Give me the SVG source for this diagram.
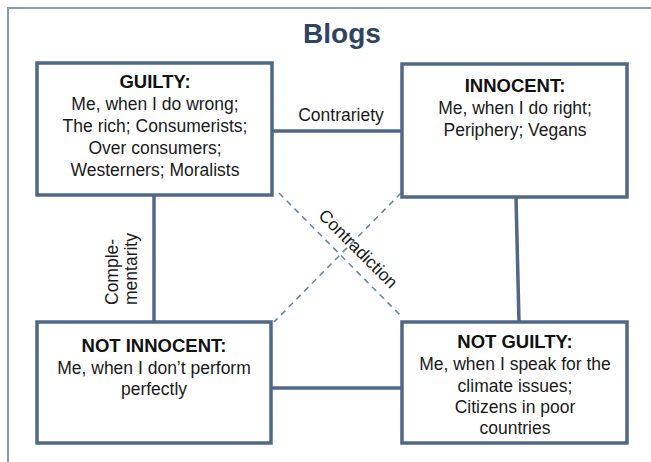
<svg xmlns="http://www.w3.org/2000/svg" width="651" height="462" viewBox="0 0 651 462">
  <style>
    .frame { fill: none; stroke: #8899b1; stroke-width: 2; }
    .title { font-family: "Liberation Sans", Arial, sans-serif; font-size: 28px; font-weight: bold; fill: #2e4460; text-anchor: middle; }
    .box { fill: #ffffff; stroke: #4f6888; stroke-width: 3.5; }
    .head { font-family: "Liberation Sans", Arial, sans-serif; font-size: 18.5px; font-weight: bold; fill: #111111; text-anchor: middle; }
    .body { font-family: "Liberation Sans", Arial, sans-serif; font-size: 17.5px; fill: #1a1a1a; text-anchor: middle; }
    .link { fill: none; stroke: #4f6888; stroke-width: 3.5; }
    .dash { fill: none; stroke: #6e86a4; stroke-width: 1.6; stroke-dasharray: 6 5; }
    .label { font-family: "Liberation Sans", Arial, sans-serif; font-size: 17.5px; fill: #1a1a1a; }
  </style>

  <rect width="651" height="462" fill="#ffffff"/>
  <!-- outer frame: top and left edges -->
  <path class="frame" d="M8 462 V8 H651"/>

  <text class="title" x="342" y="43">Blogs</text>

  <!-- connectors between the four squares -->
  <g id="connectors">
    <line class="link" x1="272" y1="131" x2="402" y2="131"/>
    <line class="link" x1="154" y1="195" x2="154" y2="322"/>
    <line class="link" x1="516" y1="197" x2="519" y2="322"/>
    <line class="link" x1="271" y1="388" x2="402" y2="388"/>
    <line class="dash" x1="279" y1="193" x2="401" y2="316"/>
    <line class="dash" x1="401" y1="193" x2="274" y2="322"/>
    <text class="label" x="341" y="121" text-anchor="middle">Contrariety</text>
    <text class="label" transform="translate(118 305) rotate(-90)">Comple-</text>
    <text class="label" transform="translate(137 305) rotate(-90)">mentarity</text>
    <text class="label" text-anchor="middle" transform="translate(354 253) rotate(45)">Contradiction</text>
  </g>

  <g id="guilty">
    <rect class="box" x="37" y="63" width="235" height="132"/>
    <text class="head" x="155" y="88">GUILTY:</text>
    <text class="body" x="155" y="110">Me, when I do wrong;</text>
    <text class="body" x="155" y="132">The rich; Consumerists;</text>
    <text class="body" x="155" y="154">Over consumers;</text>
    <text class="body" x="155" y="176">Westerners; Moralists</text>
  </g>

  <g id="innocent">
    <rect class="box" x="402" y="64" width="225" height="133"/>
    <text class="head" x="515" y="92">INNOCENT:</text>
    <text class="body" x="515" y="114">Me, when I do right;</text>
    <text class="body" x="515" y="136">Periphery; Vegans</text>
  </g>

  <g id="not-innocent">
    <rect class="box" x="37" y="322" width="234" height="121"/>
    <text class="head" x="154" y="352">NOT INNOCENT:</text>
    <text class="body" x="154" y="374">Me, when I don’t perform</text>
    <text class="body" x="154" y="395">perfectly</text>
  </g>

  <g id="not-guilty">
    <rect class="box" x="402" y="322" width="225" height="121"/>
    <text class="head" x="515" y="348">NOT GUILTY:</text>
    <text class="body" x="515" y="370">Me, when I speak for the</text>
    <text class="body" x="515" y="392">climate issues;</text>
    <text class="body" x="515" y="413">Citizens in poor</text>
    <text class="body" x="515" y="434">countries</text>
  </g>
</svg>
